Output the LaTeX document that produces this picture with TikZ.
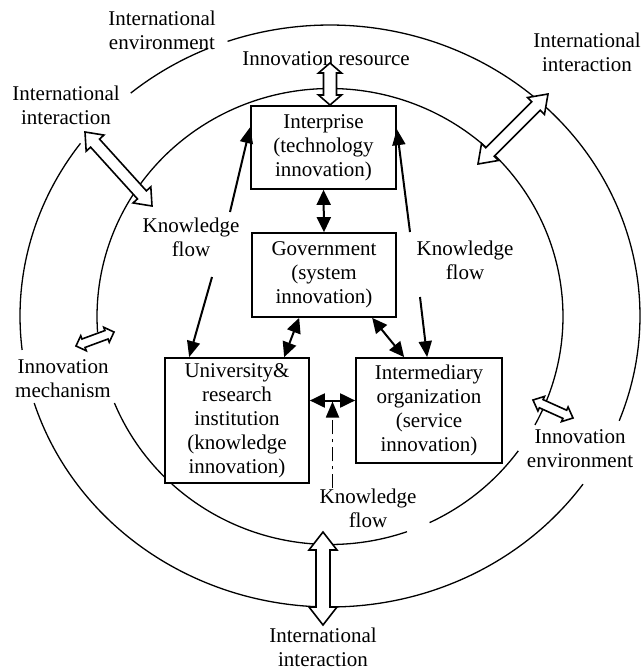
\documentclass[tikz,border=0pt]{standalone}
\usepackage{fontspec}
\setmainfont{Liberation Serif}
\usetikzlibrary{arrows.meta,calc}
\newcommand\hollowarrow[5]{%
  \draw[hollow] (#1)
   -- ($(#1)!#5!(#2)!#4!90:(#2)$) -- ($(#1)!#5!(#2)!#3!90:(#2)$)
   -- ($(#2)!#5!(#1)!#3!-90:(#1)$) -- ($(#2)!#5!(#1)!#4!-90:(#1)$)
   -- (#2)
   -- ($(#2)!#5!(#1)!#4!90:(#1)$) -- ($(#2)!#5!(#1)!#3!90:(#1)$)
   -- ($(#1)!#5!(#2)!#3!-90:(#2)$) -- ($(#1)!#5!(#2)!#4!-90:(#2)$)
   -- cycle;}
\begin{document}
\begin{tikzpicture}[x=1pt,y=-1pt,
  every node/.style={font=\fontsize{21}{24}\selectfont, align=center, inner sep=0pt},
  box/.style={draw, line width=1.7pt, fill=white},
  ring/.style={line width=1.3pt},
  hollow/.style={line width=1.6pt, fill=white, draw, line join=miter},
  link/.style={line width=2pt, {Triangle[length=15pt,width=14pt]}-{Triangle[length=15pt,width=14pt]}},
  flowarrow/.style={line width=2pt, -{Triangle[length=16pt,width=13pt]}}]
\useasboundingbox (0,0) rectangle (643,670);
% outer ring
\draw[ring] plot[domain=-21.1:109.3, samples=120, variable=\t] ({330+310*cos(\t)},{316-291*sin(\t)});
\draw[ring] plot[domain=113.2:130, samples=30, variable=\t] ({330+310*cos(\t)},{316-291*sin(\t)});
\draw[ring] plot[domain=143.6:186.7, samples=50, variable=\t] ({330+310*cos(\t)},{316-291*sin(\t)});
\draw[ring] plot[domain=197.4:324.7, samples=120, variable=\t] ({330+310*cos(\t)},{316-291*sin(\t)});
% inner ring
\draw[ring] plot[domain=-28.4:184, samples=160, variable=\t] ({330+233*cos(\t)},{316.5-228*sin(\t)});
\draw[ring] plot[domain=202.3:289.3, samples=90, variable=\t] ({330+233*cos(\t)},{316.5-228*sin(\t)});
\draw[ring] plot[domain=295.3:323.9, samples=40, variable=\t] ({330+233*cos(\t)},{316.5-228*sin(\t)});
% boxes
\node[box, minimum width=145pt, minimum height=83pt] (ent) at (323.5,147.5) {Interprise\\(technology\\innovation)};
\node[box, minimum width=144pt, minimum height=84pt] (gov) at (324,275) {Government\\(system\\innovation)};
\node[box, minimum width=144pt, minimum height=125pt] (univ) at (237,420.5) {University\&\\research\\institution\\(knowledge\\innovation)};
\node[box, minimum width=146pt, minimum height=105pt] (inter) at (429,410.5) {Intermediary\\organization\\(service\\innovation)};
% labels
\node (ienv) at (162,30) {International\\environment};
\node (res) at (326,58.5) {Innovation resource};
\node (iur) at (587,52) {International\\interaction};
\node (iul) at (66,105) {International\\interaction};
\node (mech) at (63,379) {Innovation\\mechanism};
\node (envl) at (580,449) {Innovation\\environment};
\node (kfl) at (191,237) {Knowledge\\flow};
\node (kfr) at (465,260) {Knowledge\\flow};
\node (kfb) at (368,508) {Knowledge\\flow};
\node (ibt) at (323,647.5) {International\\interaction};
% black links
\draw[link] (ent.south) -- (gov.north);
\draw[link] ($(gov.south west)+(48,0)$) -- ($(univ.north west)+(120,0)$);
\draw[link] ($(gov.south west)+(121,0)$) -- ($(inter.north west)+(49,0)$);
\coordinate (hl) at ($(univ.east)+(0,-20)$);
\coordinate (hr) at (hl -| inter.west);
\draw[link] (hl) -- (hr);
\coordinate (hm) at ($(hl)!0.5!(hr)$);
\draw[flowarrow, line width=1.8pt, dash pattern=on 14pt off 5pt on 3pt off 5pt] (kfb.north -| hm) -- ($(hm)+(0,1)$);
% knowledge flow arrows
\coordinate (kl1) at (230,212);
\coordinate (kl2) at (212,277);
\coordinate (kr1) at (410,232);
\coordinate (kr2) at (420,297);
\draw[flowarrow] (kl1) -- ($(ent.north west)+(0,22)$);
\draw[flowarrow] (kl2) -- ($(univ.north west)+(25,0)$);
\draw[flowarrow] (kr1) -- ($(ent.north east)+(0,24)$);
\draw[flowarrow] (kr2) -- ($(inter.north west)+(72,0)$);
% hollow double arrows
\coordinate (ra1) at (330,63);  \coordinate (ra2) at (330,105);
\coordinate (ul1) at (85,132);  \coordinate (ul2) at (152,206);
\coordinate (ur1) at (478,164); \coordinate (ur2) at (548,94);
\coordinate (lm1) at (76,346);  \coordinate (lm2) at (114,332);
\coordinate (re1) at (533,400); \coordinate (re2) at (573,418);
\coordinate (bt1) at (323,532); \coordinate (bt2) at (323,625);
\hollowarrow{ra1}{ra2}{6.5pt}{11.5pt}{10pt}
\hollowarrow{ul1}{ul2}{6pt}{12pt}{15pt}
\hollowarrow{ur1}{ur2}{6pt}{12pt}{17pt}
\hollowarrow{lm1}{lm2}{4.5pt}{8pt}{8pt}
\hollowarrow{re1}{re2}{4.5pt}{8pt}{9pt}
\hollowarrow{bt1}{bt2}{7pt}{14pt}{18pt}
\end{tikzpicture}
\end{document}
